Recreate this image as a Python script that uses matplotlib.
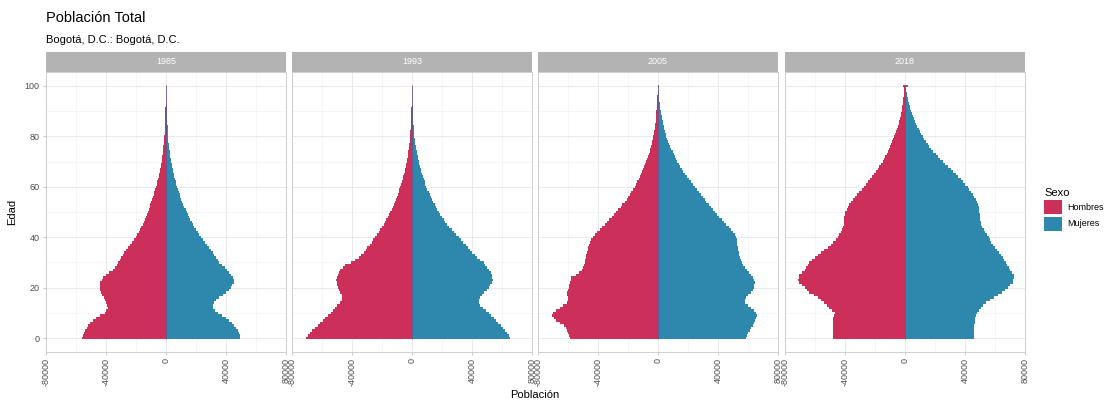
import matplotlib.pyplot as plt
from matplotlib.patches import Patch, Rectangle

plt.rcParams['font.family'] = ['Liberation Sans', 'DejaVu Sans']

edades = list(range(101))
anios = ['1985', '1993', '2005', '2018']
ticks_x = [-80000, -40000, 0, 40000, 80000]
ticks_y = [0, 20, 40, 60, 80, 100]

# población por edad simple (0 a 100+), en miles de personas
hombres_1985 = [
    56.0, 55.5, 54.8, 54.0, 53.0, 52.0, 50.5, 48.8, 47.0, 44.0,
    41.0, 39.8, 39.0, 39.2, 39.8, 40.5, 41.6, 42.6, 43.3, 43.8,
    44.0, 44.0, 43.7, 43.0, 42.0, 40.0, 37.8, 35.5, 34.2, 33.0,
    32.0, 31.0, 30.0, 29.0, 28.0, 27.0, 25.6, 24.2, 22.8, 21.4,
    20.0, 19.1, 18.2, 17.3, 16.4, 15.5, 14.8, 14.1, 13.5, 12.8,
    12.2, 11.6, 11.0, 10.4, 9.8, 9.3, 8.8, 8.2, 7.7, 7.2,
    6.7, 6.3, 5.8, 5.4, 4.9, 4.5, 4.2, 3.8, 3.5, 3.2,
    2.9, 2.7, 2.4, 2.2, 2.0, 1.8, 1.7, 1.5, 1.4, 1.2,
    1.1, 1.0, 0.9, 0.8, 0.8, 0.7, 0.6, 0.6, 0.5, 0.5,
    0.4, 0.4, 0.3, 0.3, 0.3, 0.2, 0.2, 0.2, 0.1, 0.1,
    0.3]
mujeres_1985 = [
    49.5, 49.0, 48.4, 47.7, 46.7, 45.5, 44.0, 42.0, 40.0, 37.0,
    34.4, 32.5, 31.0, 31.0, 32.0, 33.5, 35.5, 37.8, 40.0, 41.7,
    43.0, 44.2, 45.0, 45.0, 44.4, 43.4, 42.0, 40.5, 39.0, 37.2,
    35.5, 34.4, 33.3, 32.2, 31.1, 30.0, 28.7, 27.3, 26.0, 24.6,
    23.3, 22.2, 21.1, 20.0, 18.9, 17.8, 17.0, 16.2, 15.4, 14.6,
    13.8, 13.0, 12.3, 11.5, 10.8, 10.0, 9.5, 9.0, 8.4, 7.9,
    7.3, 6.9, 6.4, 6.0, 5.5, 5.1, 4.7, 4.4, 4.0, 3.7,
    3.3, 3.1, 2.9, 2.6, 2.4, 2.2, 2.0, 1.8, 1.6, 1.5,
    1.3, 1.2, 1.1, 1.0, 1.0, 0.9, 0.8, 0.7, 0.6, 0.5,
    0.45, 0.4, 0.35, 0.3, 0.25, 0.2, 0.2, 0.15, 0.1, 0.1,
    0.3]
hombres_1993 = [
    70.6, 69.3, 68.0, 66.6, 64.8, 63.0, 61.3, 59.5, 57.7, 55.8,
    54.0, 52.7, 51.3, 50.0, 48.2, 46.6, 46.5, 47.0, 48.0, 48.8,
    49.4, 50.0, 50.3, 50.4, 50.0, 49.5, 48.6, 47.7, 46.0, 44.4,
    41.0, 38.0, 35.5, 33.8, 32.3, 31.0, 29.7, 28.3, 27.0, 25.7,
    24.4, 23.3, 22.2, 21.1, 20.0, 18.9, 18.0, 17.1, 16.2, 15.3,
    14.4, 13.6, 12.9, 12.1, 11.4, 10.7, 10.1, 9.5, 8.9, 8.4,
    7.8, 7.3, 6.8, 6.3, 5.8, 5.3, 4.9, 4.6, 4.2, 3.9,
    3.5, 3.2, 2.9, 2.7, 2.4, 2.2, 2.0, 1.8, 1.6, 1.5,
    1.3, 1.2, 1.1, 1.0, 0.9, 0.8, 0.7, 0.6, 0.5, 0.45,
    0.4, 0.35, 0.3, 0.25, 0.2, 0.2, 0.15, 0.1, 0.1, 0.1,
    0.3]
mujeres_1993 = [
    65.5, 64.4, 63.2, 62.0, 60.5, 59.0, 57.5, 56.0, 54.4, 52.7,
    51.0, 49.2, 47.3, 45.5, 44.6, 44.4, 45.3, 46.6, 48.3, 50.0,
    51.0, 52.0, 53.0, 53.7, 53.6, 53.3, 52.5, 51.5, 50.2, 48.8,
    47.7, 45.5, 43.3, 41.8, 40.3, 38.8, 37.3, 35.8, 34.2, 32.6,
    31.0, 29.5, 28.0, 26.4, 24.9, 23.3, 22.2, 21.0, 20.0, 18.9,
    17.8, 16.9, 16.0, 15.1, 14.2, 13.3, 12.5, 11.8, 11.0, 10.3,
    9.5, 8.9, 8.4, 7.8, 7.3, 6.7, 6.2, 5.8, 5.3, 4.9,
    4.4, 4.1, 3.8, 3.5, 3.2, 2.9, 2.6, 2.3, 2.1, 1.8,
    1.6, 1.5, 1.3, 1.2, 1.0, 0.9, 0.8, 0.7, 0.6, 0.5,
    0.45, 0.4, 0.35, 0.3, 0.25, 0.2, 0.2, 0.15, 0.1, 0.1,
    0.3]
hombres_2005 = [
    58.8, 59.3, 59.8, 60.4, 61.6, 63.0, 65.3, 67.7, 69.3, 70.6,
    70.0, 67.8, 65.5, 63.2, 61.0, 60.3, 60.0, 60.5, 61.0, 60.3,
    59.5, 59.2, 58.8, 58.3, 57.7, 55.0, 53.0, 51.0, 50.0, 49.4,
    48.8, 48.4, 48.0, 47.7, 47.3, 47.0, 46.5, 46.0, 45.5, 44.4,
    43.3, 41.9, 40.4, 38.8, 37.2, 35.5, 34.0, 32.5, 30.9, 29.3,
    27.7, 26.4, 25.0, 23.7, 22.3, 21.0, 19.9, 18.8, 17.7, 16.6,
    15.5, 14.6, 13.7, 12.9, 12.0, 11.1, 10.4, 9.8, 9.1, 8.5,
    7.8, 7.3, 6.7, 6.2, 5.6, 5.1, 4.7, 4.3, 3.9, 3.5,
    3.1, 2.8, 2.5, 2.2, 2.0, 1.8, 1.6, 1.5, 1.3, 1.2,
    1.1, 0.9, 0.8, 0.6, 0.5, 0.4, 0.35, 0.3, 0.25, 0.2,
    0.3]
mujeres_2005 = [
    58.8, 59.5, 60.2, 61.0, 62.2, 63.3, 64.1, 64.8, 65.5, 65.8,
    65.5, 64.0, 62.0, 59.8, 57.7, 57.9, 58.8, 60.3, 62.0, 63.1,
    64.0, 64.3, 64.4, 64.0, 63.3, 62.0, 60.4, 59.0, 57.7, 56.8,
    56.0, 55.4, 54.8, 54.2, 53.7, 53.3, 53.1, 52.9, 52.8, 52.5,
    52.2, 51.2, 50.0, 48.6, 47.0, 45.5, 44.0, 42.4, 40.8, 39.3,
    37.7, 36.4, 35.0, 33.7, 32.3, 31.0, 29.7, 28.4, 27.0, 25.7,
    24.4, 23.1, 21.8, 20.4, 19.1, 17.8, 16.8, 15.8, 14.9, 13.9,
    12.9, 12.1, 11.3, 10.5, 9.7, 8.9, 8.2, 7.6, 6.9, 6.2,
    5.5, 5.1, 4.6, 4.2, 3.7, 3.3, 3.0, 2.7, 2.4, 2.1,
    1.8, 1.6, 1.3, 1.1, 0.9, 0.7, 0.6, 0.45, 0.35, 0.25,
    0.4]
hombres_2018 = [
    48.2, 48.2, 48.2, 48.2, 48.2, 48.2, 48.0, 47.9, 47.7, 47.3,
    47.0, 48.6, 50.4, 52.0, 53.7, 56.0, 58.2, 61.0, 63.7, 65.4,
    67.0, 68.7, 70.4, 71.5, 71.0, 70.4, 68.7, 67.0, 65.9, 64.8,
    63.7, 61.9, 60.0, 58.2, 56.0, 53.7, 51.5, 49.3, 47.8, 46.3,
    44.8, 43.7, 42.6, 42.1, 41.5, 41.0, 40.8, 40.6, 40.4, 40.0,
    39.7, 39.0, 38.2, 37.1, 36.0, 34.9, 33.4, 31.9, 30.4, 28.7,
    27.1, 25.8, 24.4, 23.1, 21.7, 20.4, 19.3, 18.2, 17.1, 16.0,
    14.9, 14.0, 13.1, 12.2, 11.3, 10.4, 9.7, 9.1, 8.4, 7.8,
    7.1, 6.5, 6.0, 5.3, 4.8, 4.2, 3.8, 3.4, 3.0, 2.6,
    2.2, 2.0, 1.7, 1.5, 1.3, 1.1, 0.9, 0.7, 0.5, 0.4,
    1.5]
mujeres_2018 = [
    46.2, 46.2, 46.2, 46.2, 46.2, 46.2, 46.4, 46.6, 46.8, 47.2,
    47.7, 49.1, 50.6, 52.3, 54.0, 56.8, 59.5, 62.0, 64.6, 66.5,
    68.4, 70.0, 71.7, 72.3, 72.8, 72.4, 71.2, 70.0, 69.1, 68.2,
    67.3, 66.2, 65.1, 64.0, 62.5, 61.0, 59.7, 58.4, 57.5, 56.6,
    55.7, 54.6, 53.5, 52.5, 51.5, 50.6, 50.5, 50.3, 50.2, 49.8,
    49.5, 49.3, 49.1, 48.5, 47.9, 47.3, 46.2, 45.1, 44.0, 42.8,
    41.7, 40.2, 38.6, 37.1, 35.5, 34.0, 32.2, 30.4, 28.7, 26.9,
    25.1, 23.6, 22.0, 20.4, 18.9, 17.3, 16.2, 15.1, 14.0, 12.9,
    11.8, 10.9, 10.0, 9.1, 8.2, 7.3, 6.6, 6.0, 5.3, 4.7,
    4.0, 3.5, 3.0, 2.6, 2.2, 1.8, 1.5, 1.2, 0.9, 0.7,
    2.2]

hombres = [hombres_1985, hombres_1993, hombres_2005, hombres_2018]
mujeres = [mujeres_1985, mujeres_1993, mujeres_2005, mujeres_2018]

col_h = '#CB2F5A'
col_m = '#2E88AE'
gris = '#B3B3B3'

fig = plt.figure(figsize=(11.09, 4.01), dpi=100)
W, H = 1109, 401
lefts = [46, 292, 538, 785]
pw, top, bot = 240, 72, 352

for i, anio in enumerate(anios):
    ax = fig.add_axes([lefts[i] / W, 1 - bot / H, pw / W, (bot - top) / H])
    ax.barh(edades, [-v * 1000 for v in hombres[i]], height=1.0,
            color=col_h, linewidth=0, zorder=3)
    ax.barh(edades, [v * 1000 for v in mujeres[i]], height=1.0,
            color=col_m, linewidth=0, zorder=3)
    # línea fina donde se tocan las dos series
    ax.vlines(0, -0.5, 100.5, color='#6E4F86', linewidth=0.6, zorder=4)
    ax.set_xlim(-80000, 80000)
    ax.set_ylim(-5.55, 105.55)
    ax.set_xticks(ticks_x)
    ax.set_xticklabels([str(t) for t in ticks_x], rotation=90, va='top',
                       ha='center', fontsize=6.5, color='#4D4D4D')
    ax.set_xticks([-60000, -20000, 20000, 60000], minor=True)
    ax.set_yticks(ticks_y)
    ax.set_yticks([10, 30, 50, 70, 90], minor=True)
    if i == 0:
        ax.set_yticklabels([str(t) for t in ticks_y], fontsize=6.5, color='#4D4D4D')
    else:
        ax.set_yticklabels([])
    ax.tick_params(which='major', color=gris, length=2.5, width=0.5, pad=2)
    ax.tick_params(which='minor', length=0)
    if i > 0:
        ax.tick_params(axis='y', length=0)
    ax.grid(True, which='major', color='#E6E6E6', linewidth=0.6, zorder=0)
    ax.grid(True, which='minor', color='#F0F0F0', linewidth=0.4, zorder=0)
    ax.set_axisbelow(True)
    for s in ax.spines.values():
        s.set_color('#C8C8C8')
        s.set_linewidth(0.6)

    # franja del año
    fig.patches.append(Rectangle((lefts[i] / W, 1 - top / H), pw / W, 20 / H,
                                 transform=fig.transFigure, facecolor=gris,
                                 edgecolor='none'))
    fig.text((lefts[i] + pw / 2) / W, 1 - 62 / H, anio, ha='center',
             va='center', fontsize=6.5, color='white')

fig.text(46 / W, 1 - 18 / H, 'Población Total', fontsize=10.5, va='center')
fig.text(46 / W, 1 - 40 / H, 'Bogotá, D.C.: Bogotá, D.C.', fontsize=8, va='center')
fig.text(535 / W, 1 - 395 / H, 'Población', fontsize=8, ha='center', va='center')
fig.text(12 / W, 1 - 212 / H, 'Edad', fontsize=8, rotation=90, ha='center', va='center')

handles = [Patch(facecolor=col_h, label='Hombres'),
           Patch(facecolor=col_m, label='Mujeres')]
fig.legend(handles=handles, title='Sexo', loc='upper left',
           bbox_to_anchor=(1036 / W, 1 - 180 / H), frameon=False,
           fontsize=6.5, title_fontsize=8, handlelength=2.0, handleheight=2.0,
           handletextpad=0.6, labelspacing=0.25, alignment='left')

fig.savefig('out.png', dpi=100)
